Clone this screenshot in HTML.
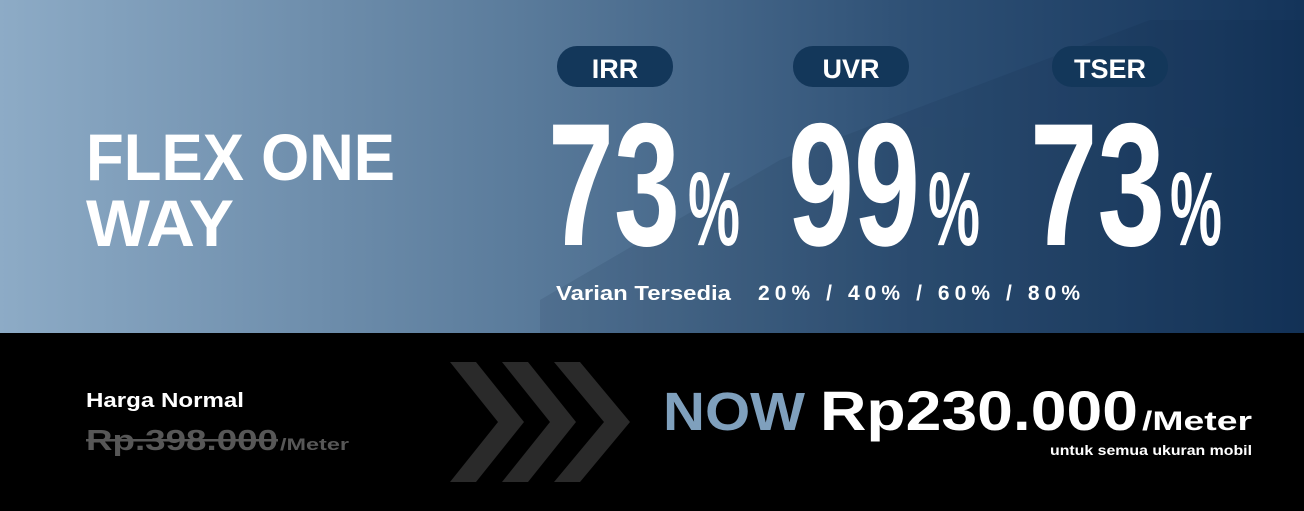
<!DOCTYPE html>
<html><head><meta charset="utf-8"><style>
html,body{margin:0;padding:0;width:1304px;height:511px;overflow:hidden;background:#000}
svg{display:block}
text{font-family:"Liberation Sans",sans-serif;font-weight:bold}
</style></head><body>
<svg width="1304" height="511" viewBox="0 0 1304 511">
<defs>
<linearGradient id="bg" x1="0" y1="0" x2="1" y2="0">
<stop offset="0" stop-color="#8dabc6"/>
<stop offset="0.4" stop-color="#5a7b9b"/>
<stop offset="0.7" stop-color="#2e5075"/>
<stop offset="1" stop-color="#14345a"/>
</linearGradient>
</defs>
<rect x="0" y="0" width="1304" height="333" fill="url(#bg)"/>
<g opacity="0.1" fill="#0b2038">
<polygon points="540,333 540,300 780,160 1150,20 1304,20 1304,333"/>
<rect x="900" y="190" width="404" height="30"/>
<rect x="760" y="250" width="544" height="18"/>
</g>
<rect x="0" y="333" width="1304" height="178" fill="#000"/>

<text x="86" y="180" font-size="66" fill="#fff" textLength="309" lengthAdjust="spacingAndGlyphs">FLEX ONE</text>
<text x="86" y="246" font-size="66" fill="#fff" textLength="148" lengthAdjust="spacingAndGlyphs">WAY</text>

<g>
<rect x="557" y="46" width="116" height="41" rx="20" fill="#13375a"/>
<text x="615" y="78" font-size="27" fill="#fff" text-anchor="middle">IRR</text>
<text x="548" y="245" font-size="175" fill="#fff" textLength="132" lengthAdjust="spacingAndGlyphs">73</text>
<text x="688" y="245" font-size="105" fill="#fff" textLength="52" lengthAdjust="spacingAndGlyphs">%</text>
</g>
<g>
<rect x="793" y="46" width="116" height="41" rx="20" fill="#13375a"/>
<text x="851" y="78" font-size="27" fill="#fff" text-anchor="middle">UVR</text>
<text x="788" y="245" font-size="175" fill="#fff" textLength="132" lengthAdjust="spacingAndGlyphs">99</text>
<text x="928" y="245" font-size="105" fill="#fff" textLength="52" lengthAdjust="spacingAndGlyphs">%</text>
</g>
<g>
<rect x="1052" y="46" width="116" height="41" rx="20" fill="#13375a"/>
<text x="1110" y="78" font-size="27" fill="#fff" text-anchor="middle">TSER</text>
<text x="1030" y="245" font-size="175" fill="#fff" textLength="135" lengthAdjust="spacingAndGlyphs">73</text>
<text x="1170" y="245" font-size="105" fill="#fff" textLength="52" lengthAdjust="spacingAndGlyphs">%</text>
</g>

<text x="556" y="300" font-size="20" fill="#fff" textLength="175" lengthAdjust="spacingAndGlyphs">Varian Tersedia</text>
<text x="758" y="300" font-size="21" fill="#fff" textLength="322" lengthAdjust="spacing">20% / 40% / 60% / 80%</text>

<text x="86" y="407" font-size="20" fill="#fff" textLength="158" lengthAdjust="spacingAndGlyphs">Harga Normal</text>
<text x="86" y="450" font-size="29" fill="#575757" textLength="192" lengthAdjust="spacingAndGlyphs">Rp.398.000</text>
<rect x="86" y="439" width="192" height="2.5" fill="#575757"/>
<text x="280" y="450" font-size="17" fill="#575757" textLength="69" lengthAdjust="spacingAndGlyphs">/Meter</text>

<g fill="#2a2a2a">
<polygon points="450,362 476,362 524,422 476,482 450,482 498,422"/>
<polygon points="502,362 528,362 576,422 528,482 502,482 550,422"/>
<polygon points="554,362 580,362 630,422 580,482 554,482 604,422"/>
</g>

<text x="663" y="430" font-size="54" fill="#7fa0bd" textLength="142" lengthAdjust="spacingAndGlyphs">NOW</text>
<text x="820" y="430" font-size="56" fill="#fff" textLength="318" lengthAdjust="spacingAndGlyphs">Rp230.000</text>
<text x="1142" y="430" font-size="27" fill="#fff" textLength="110" lengthAdjust="spacingAndGlyphs">/Meter</text>
<text x="1252" y="455" font-size="14" fill="#fff" text-anchor="end" textLength="202" lengthAdjust="spacingAndGlyphs">untuk semua ukuran mobil</text>
</svg>
</body></html>
